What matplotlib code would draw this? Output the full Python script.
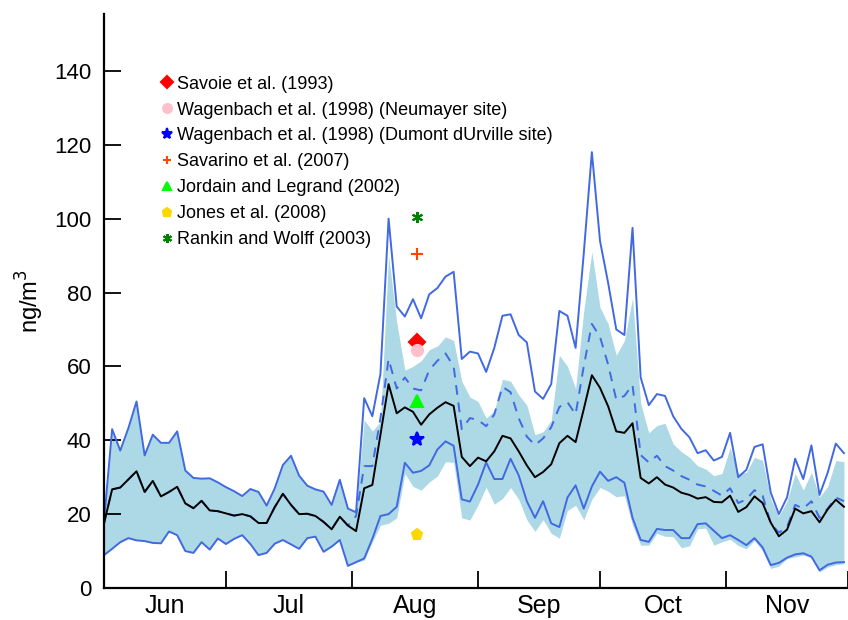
import numpy as np
import matplotlib
matplotlib.use("Agg")
import matplotlib.pyplot as plt

plt.rcParams['font.family'] = ['Liberation Sans', 'DejaVu Sans']

# every second day from 1 June
days = list(range(0, 184, 2))

upper = [18, 43, 37.2, 43.3, 50.5, 35.9, 41.5, 39.3, 39.3, 42.4,
         31.8, 29.8, 29.6, 29.7, 28.6, 27.3, 26.2, 24.9, 26.8, 26,
         22.3, 27, 33.3, 35.8, 30.4, 27.7, 26.7, 26.1, 22.5, 29.3,
         21.5, 20.5, 51.4, 46.5, 58, 100, 76.2, 73.5, 78.2, 73,
         79.5, 81.2, 84.3, 85.6, 62, 64, 63.5, 58.5, 65, 73.7,
         74.1, 68.5, 66.5, 53.2, 51.2, 55.2, 75, 73.7, 65, 90.5,
         118, 94, 82.6, 70, 68.5, 97.5, 57, 49.5, 52.5, 52,
         46.5, 43.1, 40.8, 36.5, 37.3, 34.5, 35.5, 42, 30, 32,
         38.2, 38.9, 25.8, 20, 24.5, 35, 29.5, 38.6, 25.2, 31.2,
         39.1, 36.5]

median = [17.5, 26.7, 27.2, 29.4, 31.6, 26, 29, 24.8, 26, 27.4,
          22.9, 21.6, 23.6, 21, 20.8, 20.2, 19.6, 20, 19.4, 17.6,
          17.6, 21.9, 25.5, 22.5, 20, 20.1, 19.5, 17.9, 15.9, 19.3,
          16.9, 15.4, 27, 27.9, 41.5, 55.2, 47.3, 48.9, 47.7, 44.2,
          47, 48.8, 50.3, 49.3, 35.5, 33, 35.3, 34.3, 37, 41.2,
          40.5, 37, 33.2, 30, 31.4, 33.5, 39.2, 41.2, 39.5, 48.4,
          57.6, 54.2, 49.2, 42.4, 42, 44.6, 29.8, 28.3, 30, 28,
          27.2, 25.8, 25.2, 24.2, 24.6, 23.3, 23.2, 25, 20.6, 21.9,
          24.8, 23, 17.7, 14, 15.8, 21.5, 20.2, 20.8, 17.8, 21.3,
          23.9, 22]

lower = [8.9, 10.6, 12.4, 13.5, 12.9, 12.7, 12.2, 12.1, 15.3, 14.3,
         10, 9.5, 12.4, 10.4, 13.4, 11.9, 13.3, 14.3, 11.9, 8.9,
         9.5, 12, 13, 11.8, 10.6, 13.5, 13.9, 9.8, 11.2, 13,
         6, 7, 8, 13.3, 19.5, 20, 22, 33.9, 31.2, 31.7,
         33.2, 37.5, 39.7, 38.5, 24, 23.4, 28, 34, 29.5, 29.5,
         35, 30.5, 23.5, 19, 23.5, 17.5, 16.5, 24.5, 27.8, 21.5,
         27.5, 31.5, 29, 30, 28.5, 19, 13, 12.5, 16, 15.7,
         15.7, 13.5, 13.5, 17.3, 17.5, 15.5, 13.5, 14.3, 13, 11.6,
         13.5, 11, 6.2, 6.8, 8.2, 9.1, 9.4, 8.5, 4.8, 6.3,
         6.9, 7]

mean = [17.5, 26.7, 27.2, 29.4, 31.6, 26, 29, 24.8, 26, 27.4,
        22.9, 21.6, 23.6, 21, 20.8, 20.2, 19.6, 20, 19.4, 17.6,
        17.6, 21.9, 25.5, 22.5, 20, 20.1, 19.5, 17.9, 15.9, 19.3,
        16.9, 19.5, 33, 33, 46, 62, 54, 57, 54, 53.5,
        59, 61.5, 63.5, 60, 43, 46, 45.5, 43.8, 47, 54.5,
        53, 46, 41, 38.7, 40.5, 43.5, 49, 50.3, 47, 60,
        71.5, 68, 60.5, 51, 52, 55, 36, 34, 35.8, 33,
        31.8, 30.3, 29.3, 28, 27.5, 26.3, 25, 27, 23, 24,
        26.5, 25, 17.5, 15, 16.5, 22.5, 21.5, 23.5, 19, 21.5,
        24.5, 23.5]

band_hi = [18, 43, 37.2, 43.3, 50.5, 35.9, 41.5, 39.3, 39.3, 42.4,
           31.8, 29.8, 29.6, 29.7, 28.6, 27.3, 26.2, 24.9, 26.8, 26,
           22.3, 27, 33.3, 35.8, 30.4, 27.7, 26.7, 26.1, 22.5, 29.3,
           21.5, 20.5, 45.5, 42.5, 45, 90, 72, 59, 60, 61.5,
           64.5, 65.5, 68, 67, 56, 51.7, 50.5, 46, 48, 56.5,
           56, 52.3, 49.5, 41.5, 42.3, 45.3, 63, 60, 54, 75,
           91, 76, 71.5, 63, 67, 78.5, 50, 42, 44, 44.6,
           39, 36.9, 35.4, 33.1, 32.2, 30.4, 31, 38, 31, 31.3,
           35.4, 34.5, 24, 19.5, 23.5, 31, 26.5, 31.3, 24.6, 27.5,
           34.5, 34.2]

band_lo = [8.9, 10.6, 12.4, 13.5, 12.9, 12.7, 12.2, 12.1, 15.3, 14.3,
           10, 9.5, 12.4, 10.4, 13.4, 11.9, 13.3, 14.3, 11.9, 8.9,
           9.5, 12, 13, 11.8, 10.6, 13.5, 13.9, 9.8, 11.2, 13,
           6, 7, 7.5, 12.5, 17, 17.5, 19, 31, 27.5, 26.5,
           28.7, 30.3, 34.2, 34, 19, 18.4, 22.5, 27.3, 22.7, 24.2,
           27.2, 24, 18.5, 15.3, 18.5, 14.8, 13.5, 21, 22.4, 18.5,
           24, 27.2, 26.2, 24.7, 25, 17, 11.6, 11.6, 14.8, 14,
           13.9, 10.9, 11.4, 16, 16.2, 11.6, 12.5, 13.2, 11.5, 10.6,
           12.9, 10, 5.3, 5.9, 8, 8.4, 8.9, 8.2, 4.3, 5.7,
           6.3, 6.6]

# literature values, all plotted at 17 August
obs_day = 77
obs = [
    ("Savoie et al. (1993)", 66.5, "D", "red"),
    ("Wagenbach et al. (1998) (Neumayer site)", 64.3, "o", "pink"),
    ("Wagenbach et al. (1998) (Dumont dUrville site)", 40.3, "*", "blue"),
    ("Savarino et al. (2007)", 90.4, "+", "orangered"),
    ("Jordain and Legrand (2002)", 50.6, "^", "lime"),
    ("Jones et al. (2008)", 14.4, "p", "gold"),
    ("Rankin and Wolff (2003)", 100.4, (6, 2, 0), "green"),
]

month_edges = [0, 30, 61, 92, 122, 153, 183]
month_names = ["Jun", "Jul", "Aug", "Sep", "Oct", "Nov"]

fig = plt.figure(figsize=(8.48, 6.2), dpi=100)
ax = fig.add_axes([104 / 848, 32 / 620, 744 / 848, 574 / 620])

ax.fill_between(days, band_lo, band_hi, color="lightblue", lw=0)
ax.plot(days, upper, color="royalblue", lw=1.4)
ax.plot(days, lower, color="royalblue", lw=1.4)
ax.plot(days, mean, color="royalblue", lw=1.4, ls=(0, (5, 4)))
ax.plot(days, median, color="black", lw=1.4)

for label, val, mk, col in obs:
    size = 10 if mk == "*" else 8
    ax.plot([obs_day], [val], ls="none", marker=mk, color=col,
            markersize=size, mew=1.5, label=label)

ax.legend(loc="upper left", bbox_to_anchor=(0.0653, 0.905), frameon=False,
          fontsize=13, handlelength=0.8, handletextpad=0.15,
          labelspacing=0.49, borderaxespad=0, markerscale=0.8)

ax.set_xlim(0, 183)
ax.set_ylim(0, 155.4)
ax.set_xticks(month_edges)
ax.set_xticklabels([])
ax.set_xticks([(a + b) / 2 for a, b in zip(month_edges[:-1], month_edges[1:])],
              minor=True)
ax.set_xticklabels(month_names, minor=True, fontsize=18)
ax.tick_params(axis="x", which="major", direction="in", length=12, width=1.3)
ax.tick_params(axis="x", which="minor", length=0, pad=4)
ax.set_yticks(range(0, 141, 20))
ax.tick_params(axis="y", direction="in", length=12, width=1.3, labelsize=16,
               pad=9)
ax.set_ylabel("ng/m$^3$", fontsize=17, labelpad=6)

for s in ["top", "right"]:
    ax.spines[s].set_visible(False)
for s in ["left", "bottom"]:
    ax.spines[s].set_linewidth(1.6)

fig.savefig("out.png", dpi=100)
